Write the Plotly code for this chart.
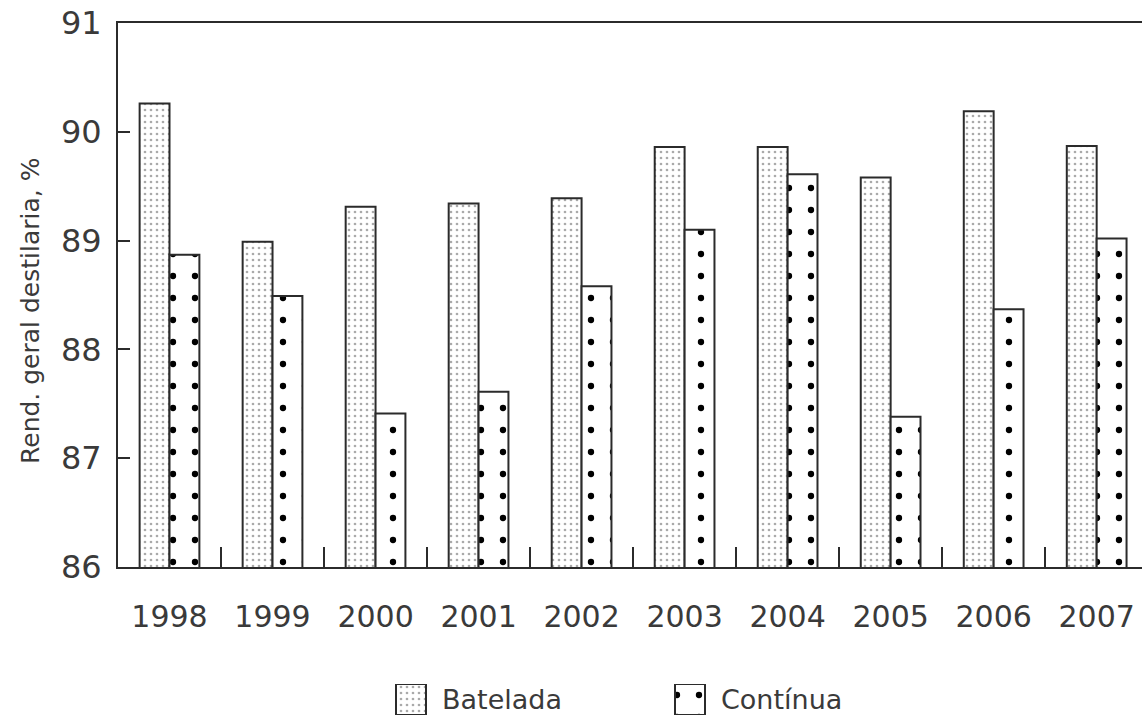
import plotly.graph_objects as go

years = ["1998", "1999", "2000", "2001", "2002", "2003", "2004", "2005", "2006", "2007"]
batelada = [90.26, 88.99, 89.31, 89.34, 89.39, 89.86, 89.86, 89.58, 90.19, 89.87]
continua = [88.87, 88.49, 87.41, 87.61, 88.58, 89.10, 89.61, 87.38, 88.37, 89.02]
y_ticks = [86, 87, 88, 89, 90, 91]
series_names = ["Batelada", "Contínua"]

FONT = "DejaVu Sans"
INK = "#2b2b2b"
TXT = "#3a3a3a"

W, H = 1142, 719
PLOT_LEFT, PLOT_TOP, PLOT_BOTTOM = 118, 23, 567


def px_x(px):
    return px / W


def px_y(py):
    return (H - py) / H


fine_dots = dict(shape=".", size=6, solidity=0.16, fgcolor="#555555", bgcolor="white")
sparse_dots = dict(shape=".", size=22, solidity=0.065, fgcolor="#000000",
                   fgopacity=1, bgcolor="white")
patterns = [fine_dots, sparse_dots]

fig = go.Figure()
for name, vals, pat in zip(series_names, [batelada, continua], patterns):
    fig.add_bar(
        x=years, y=vals, name=name, showlegend=False,
        marker=dict(color="white", line=dict(color=INK, width=2), pattern=pat),
    )

# key swatches drawn as bars on a small auxiliary axis below the chart
key_x0, key_x1 = 380, 720
key_centers = [411, 690]
for name, cx, pat in zip(series_names, key_centers, patterns):
    fig.add_bar(
        x=[cx - key_x0], y=[1], width=30, offset=-15, showlegend=False, hoverinfo="skip",
        xaxis="x2", yaxis="y2",
        marker=dict(color="white", line=dict(color=INK, width=2), pattern=pat),
    )

fig.update_layout(
    width=W, height=H,
    margin=dict(l=0, r=0, t=0, b=0),
    plot_bgcolor="white", paper_bgcolor="white",
    barmode="group", bargap=0.42, bargroupgap=0,
    font=dict(family=FONT, size=30, color=TXT),
    showlegend=False,
    xaxis2=dict(domain=[px_x(key_x0), px_x(key_x1)], range=[0, key_x1 - key_x0],
                anchor="y2", visible=False, fixedrange=True),
    yaxis2=dict(domain=[px_y(715), px_y(684)], range=[0, 1],
                anchor="x2", visible=False, fixedrange=True),
)

fig.add_annotation(text="Batelada", x=px_x(440), y=px_y(699), xref="paper", yref="paper",
                   xanchor="left", yanchor="middle", showarrow=False,
                   font=dict(size=27, color=TXT))
fig.add_annotation(text="Contínua", x=px_x(719), y=px_y(699), xref="paper", yref="paper",
                   xanchor="left", yanchor="middle", showarrow=False,
                   font=dict(size=27, color=TXT))
fig.add_annotation(text="Rend. geral destilaria, %", x=px_x(30), y=px_y(311),
                   xref="paper", yref="paper", xanchor="center", yanchor="middle",
                   textangle=-90, showarrow=False, font=dict(size=25, color=TXT))

fig.update_layout(
    xaxis=dict(
        domain=[px_x(PLOT_LEFT), 1.0], automargin=False,
        type="category", range=[-0.5, 9.44],
        showline=True, linecolor=INK, linewidth=2, mirror=True,
        ticks="inside", ticklen=20, tickwidth=2, tickcolor=INK, tickson="boundaries",
        showgrid=False, zeroline=False,
        tickfont=dict(size=30, color=TXT), ticklabelstandoff=22,
    ),
    yaxis=dict(
        domain=[px_y(PLOT_BOTTOM), px_y(PLOT_TOP)], automargin=False,
        range=[86, 91], tickvals=y_ticks, ticktext=[str(v) for v in y_ticks],
        showline=True, linecolor=INK, linewidth=2, mirror=False,
        ticks="inside", ticklen=12, tickwidth=2, tickcolor=INK,
        showgrid=False, zeroline=False,
        tickfont=dict(size=32, color=TXT), ticklabelstandoff=8,
    ),
)

fig.write_html("out.html")
